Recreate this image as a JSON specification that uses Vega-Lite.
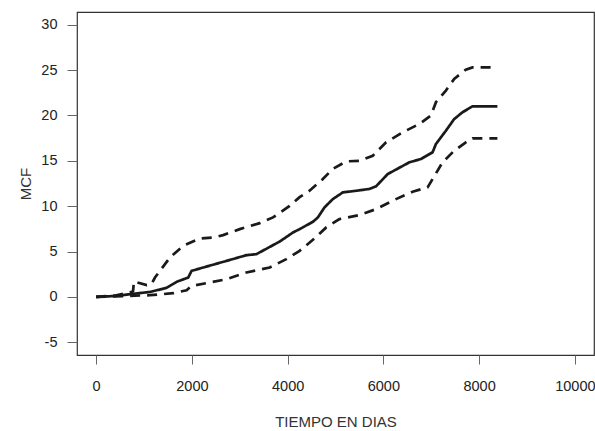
{
  "$schema": "https://vega.github.io/schema/vega-lite/v6.json",
  "autosize": "none",
  "width": 517,
  "height": 343,
  "padding": {"left": 77, "top": 12, "right": 1, "bottom": 76},
  "background": "white",
  "config": {
    "view": {"stroke": "#333333", "strokeWidth": 1.2},
    "font": "Liberation Sans"
  },
  "data": {
    "values": [
      {"t": 0, "v": 0, "s": "MCF"},
      {"t": 400, "v": 0.1, "s": "MCF"},
      {"t": 708, "v": 0.3, "s": "MCF"},
      {"t": 1125, "v": 0.55, "s": "MCF"},
      {"t": 1472, "v": 1.0, "s": "MCF"},
      {"t": 1680, "v": 1.66, "s": "MCF"},
      {"t": 1924, "v": 2.14, "s": "MCF"},
      {"t": 1993, "v": 2.87, "s": "MCF"},
      {"t": 2236, "v": 3.24, "s": "MCF"},
      {"t": 2722, "v": 3.97, "s": "MCF"},
      {"t": 3139, "v": 4.6, "s": "MCF"},
      {"t": 3347, "v": 4.71, "s": "MCF"},
      {"t": 3833, "v": 6.1, "s": "MCF"},
      {"t": 4111, "v": 7.1, "s": "MCF"},
      {"t": 4250, "v": 7.47, "s": "MCF"},
      {"t": 4528, "v": 8.28, "s": "MCF"},
      {"t": 4632, "v": 8.76, "s": "MCF"},
      {"t": 4771, "v": 9.87, "s": "MCF"},
      {"t": 4944, "v": 10.78, "s": "MCF"},
      {"t": 5153, "v": 11.52, "s": "MCF"},
      {"t": 5431, "v": 11.7, "s": "MCF"},
      {"t": 5708, "v": 11.9, "s": "MCF"},
      {"t": 5848, "v": 12.19, "s": "MCF"},
      {"t": 6090, "v": 13.54, "s": "MCF"},
      {"t": 6542, "v": 14.83, "s": "MCF"},
      {"t": 6785, "v": 15.2, "s": "MCF"},
      {"t": 7028, "v": 15.94, "s": "MCF"},
      {"t": 7098, "v": 16.85, "s": "MCF"},
      {"t": 7306, "v": 18.32, "s": "MCF"},
      {"t": 7479, "v": 19.6, "s": "MCF"},
      {"t": 7653, "v": 20.35, "s": "MCF"},
      {"t": 7861, "v": 21.0, "s": "MCF"},
      {"t": 8382, "v": 21.0, "s": "MCF"},

      {"t": 0, "v": 0, "s": "Upper"},
      {"t": 400, "v": 0.15, "s": "Upper"},
      {"t": 700, "v": 0.5, "s": "Upper"},
      {"t": 770, "v": 0.6, "s": "Upper"},
      {"t": 790, "v": 1.7, "s": "Upper"},
      {"t": 1056, "v": 1.3, "s": "Upper"},
      {"t": 1150, "v": 1.35, "s": "Upper"},
      {"t": 1229, "v": 2.14, "s": "Upper"},
      {"t": 1542, "v": 4.35, "s": "Upper"},
      {"t": 1819, "v": 5.63, "s": "Upper"},
      {"t": 2167, "v": 6.44, "s": "Upper"},
      {"t": 2444, "v": 6.55, "s": "Upper"},
      {"t": 2653, "v": 6.81, "s": "Upper"},
      {"t": 3000, "v": 7.47, "s": "Upper"},
      {"t": 3417, "v": 8.13, "s": "Upper"},
      {"t": 3694, "v": 8.76, "s": "Upper"},
      {"t": 4042, "v": 10.04, "s": "Upper"},
      {"t": 4250, "v": 11.0, "s": "Upper"},
      {"t": 4458, "v": 11.7, "s": "Upper"},
      {"t": 4736, "v": 13.0, "s": "Upper"},
      {"t": 4944, "v": 14.1, "s": "Upper"},
      {"t": 5222, "v": 14.94, "s": "Upper"},
      {"t": 5500, "v": 15.0, "s": "Upper"},
      {"t": 5778, "v": 15.56, "s": "Upper"},
      {"t": 6056, "v": 17.04, "s": "Upper"},
      {"t": 6403, "v": 18.14, "s": "Upper"},
      {"t": 6750, "v": 19.06, "s": "Upper"},
      {"t": 6993, "v": 19.98, "s": "Upper"},
      {"t": 7098, "v": 21.46, "s": "Upper"},
      {"t": 7306, "v": 22.74, "s": "Upper"},
      {"t": 7479, "v": 24.03, "s": "Upper"},
      {"t": 7722, "v": 25.05, "s": "Upper"},
      {"t": 7861, "v": 25.3, "s": "Upper"},
      {"t": 8382, "v": 25.3, "s": "Upper"},

      {"t": 0, "v": 0, "s": "Lower"},
      {"t": 1125, "v": 0.19, "s": "Lower"},
      {"t": 1611, "v": 0.41, "s": "Lower"},
      {"t": 1889, "v": 0.74, "s": "Lower"},
      {"t": 1993, "v": 1.21, "s": "Lower"},
      {"t": 2375, "v": 1.59, "s": "Lower"},
      {"t": 2722, "v": 1.95, "s": "Lower"},
      {"t": 3139, "v": 2.69, "s": "Lower"},
      {"t": 3625, "v": 3.24, "s": "Lower"},
      {"t": 3972, "v": 4.16, "s": "Lower"},
      {"t": 4250, "v": 5.08, "s": "Lower"},
      {"t": 4528, "v": 6.29, "s": "Lower"},
      {"t": 4806, "v": 7.66, "s": "Lower"},
      {"t": 5083, "v": 8.58, "s": "Lower"},
      {"t": 5500, "v": 9.02, "s": "Lower"},
      {"t": 5848, "v": 9.68, "s": "Lower"},
      {"t": 6264, "v": 10.78, "s": "Lower"},
      {"t": 6611, "v": 11.6, "s": "Lower"},
      {"t": 6924, "v": 12.07, "s": "Lower"},
      {"t": 7028, "v": 12.99, "s": "Lower"},
      {"t": 7236, "v": 14.83, "s": "Lower"},
      {"t": 7479, "v": 16.11, "s": "Lower"},
      {"t": 7722, "v": 17.04, "s": "Lower"},
      {"t": 7861, "v": 17.48, "s": "Lower"},
      {"t": 8382, "v": 17.48, "s": "Lower"}
    ]
  },
  "mark": {"type": "line", "color": "#1a1a1a", "strokeWidth": 2.7, "clip": true},
  "encoding": {
    "x": {
      "field": "t", "type": "quantitative",
      "scale": {"domain": [-400, 10400], "nice": false, "zero": false},
      "axis": {
        "values": [0, 2000, 4000, 6000, 8000, 10000],
        "format": "d",
        "title": "TIEMPO EN DIAS",
        "grid": false, "domain": false,
        "tickSize": 9, "tickColor": "#666666", "tickWidth": 1,
        "labelFontSize": 14.5, "labelColor": "#222222", "labelPadding": 15,
        "labelFlush": false,
        "titleFontSize": 15, "titleFontWeight": "normal", "titleColor": "#333333",
        "titlePadding": 22
      }
    },
    "y": {
      "field": "v", "type": "quantitative",
      "scale": {"domain": [-6.4, 31.4], "nice": false, "zero": false},
      "axis": {
        "values": [-5, 0, 5, 10, 15, 20, 25, 30],
        "labelExpr": "datum.value < 0 ? '-' + abs(datum.value) : '' + datum.value",
        "title": "MCF",
        "grid": false, "domain": false,
        "tickSize": 10, "tickColor": "#666666", "tickWidth": 1,
        "labelFontSize": 14.5, "labelColor": "#222222", "labelPadding": 10,
        "labelFlush": false,
        "titleFontSize": 15, "titleFontWeight": "normal", "titleColor": "#333333",
        "titlePadding": 7
      }
    },
    "detail": {"field": "s"},
    "strokeDash": {
      "field": "s", "type": "nominal",
      "scale": {"domain": ["MCF", "Upper", "Lower"], "range": [[1, 0], [10, 7], [10, 7]]},
      "legend": null
    }
  }
}
